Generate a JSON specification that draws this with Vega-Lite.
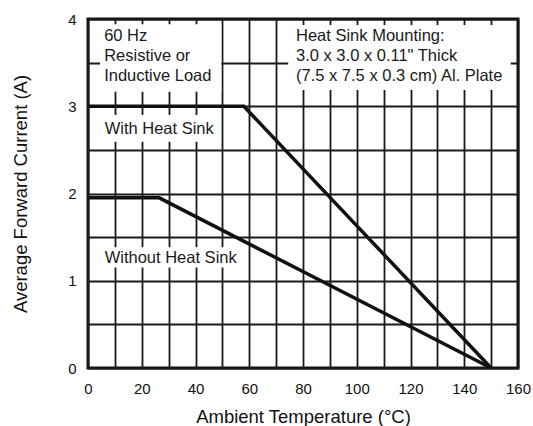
{
  "$schema": "https://vega.github.io/schema/vega-lite/v6.json",
  "width": 430,
  "height": 349,
  "autosize": {"type": "none"},
  "padding": {"left": 88, "top": 19, "right": 15, "bottom": 58},
  "background": "white",
  "config": {
    "view": {"stroke": "#111", "strokeWidth": 3},
    "font": "Liberation Sans"
  },
  "datasets": {
    "curves": [
      {"series": "With Heat Sink", "t": 0, "i": 3.0},
      {"series": "With Heat Sink", "t": 58, "i": 3.0},
      {"series": "With Heat Sink", "t": 150, "i": 0},
      {"series": "Without Heat Sink", "t": 0, "i": 1.95},
      {"series": "Without Heat Sink", "t": 26.5, "i": 1.95},
      {"series": "Without Heat Sink", "t": 150, "i": 0}
    ],
    "boxes": [
      {"x": 4.5, "x2": 49.6, "y": 3.167, "y2": 3.94},
      {"x": 2, "x2": 49, "y": 2.594, "y2": 2.9},
      {"x": 2, "x2": 58, "y": 1.153, "y2": 1.385},
      {"x": 74.5, "x2": 157.3, "y": 3.186, "y2": 3.93}
    ],
    "labels": [
      {"x": 6, "y": 3.81, "text": "60 Hz"},
      {"x": 6, "y": 3.576, "text": "Resistive or"},
      {"x": 6, "y": 3.347, "text": "Inductive Load"},
      {"x": 77.4, "y": 3.81, "text": "Heat Sink Mounting:"},
      {"x": 77.4, "y": 3.576, "text": "3.0 x 3.0 x 0.11\" Thick"},
      {"x": 77.4, "y": 3.347, "text": "(7.5 x 7.5 x 0.3 cm) Al. Plate"},
      {"x": 6.2, "y": 2.74, "text": "With Heat Sink"},
      {"x": 6.2, "y": 1.265, "text": "Without Heat Sink"}
    ]
  },
  "layer": [
    {
      "data": {"name": "boxes"},
      "mark": {"type": "rect", "fill": "white", "stroke": null},
      "encoding": {
        "x": {
          "field": "x", "type": "quantitative",
          "scale": {"domain": [0, 160], "nice": false},
          "axis": {
            "values": [0,10,20,30,40,50,60,70,80,90,100,110,120,130,140,150,160],
            "tickCount": 100,
            "labelExpr": "datum.value % 20 === 0 ? format(datum.value, 'd') : ''",
            "grid": true, "gridColor": "#1a1a1a", "gridWidth": 1.8, "gridOpacity": 1,
            "domain": false, "ticks": false,
            "labelPadding": 13, "labelFontSize": 15, "labelColor": "#111",
            "labelFlush": false, "labelOverlap": false, "labelBound": false,
            "title": "Ambient Temperature (°C)",
            "titleFontSize": 18.5, "titleFontWeight": "normal", "titleColor": "#111",
            "titleBaseline": "alphabetic", "titleY": 54
          }
        },
        "x2": {"field": "x2"},
        "y": {
          "field": "y", "type": "quantitative",
          "scale": {"domain": [0, 4], "nice": false},
          "axis": {
            "values": [0,0.5,1,1.5,2,2.5,3,3.5,4],
            "tickCount": 100,
            "labelExpr": "datum.value % 1 === 0 ? format(datum.value, 'd') : ''",
            "grid": true, "gridColor": "#1a1a1a", "gridWidth": 1.8, "gridOpacity": 1,
            "domain": false, "ticks": false,
            "labelPadding": 12, "labelFontSize": 15, "labelColor": "#111",
            "labelFlush": false, "labelOverlap": false, "labelBound": false,
            "title": "Average Forward Current (A)",
            "titleFontSize": 18.5, "titleFontWeight": "normal", "titleColor": "#111",
            "titleBaseline": "alphabetic", "titleX": -61.5
          }
        },
        "y2": {"field": "y2"}
      }
    },
    {
      "data": {"name": "curves"},
      "mark": {"type": "line", "color": "#111", "strokeWidth": 3.5},
      "encoding": {
        "x": {"field": "t", "type": "quantitative"},
        "y": {"field": "i", "type": "quantitative"},
        "detail": {"field": "series"}
      }
    },
    {
      "data": {"name": "labels"},
      "mark": {"type": "text", "align": "left", "baseline": "middle", "fontSize": 16.5, "color": "#1a1a1a"},
      "encoding": {
        "x": {"field": "x", "type": "quantitative"},
        "y": {"field": "y", "type": "quantitative"},
        "text": {"field": "text"}
      }
    }
  ]
}
